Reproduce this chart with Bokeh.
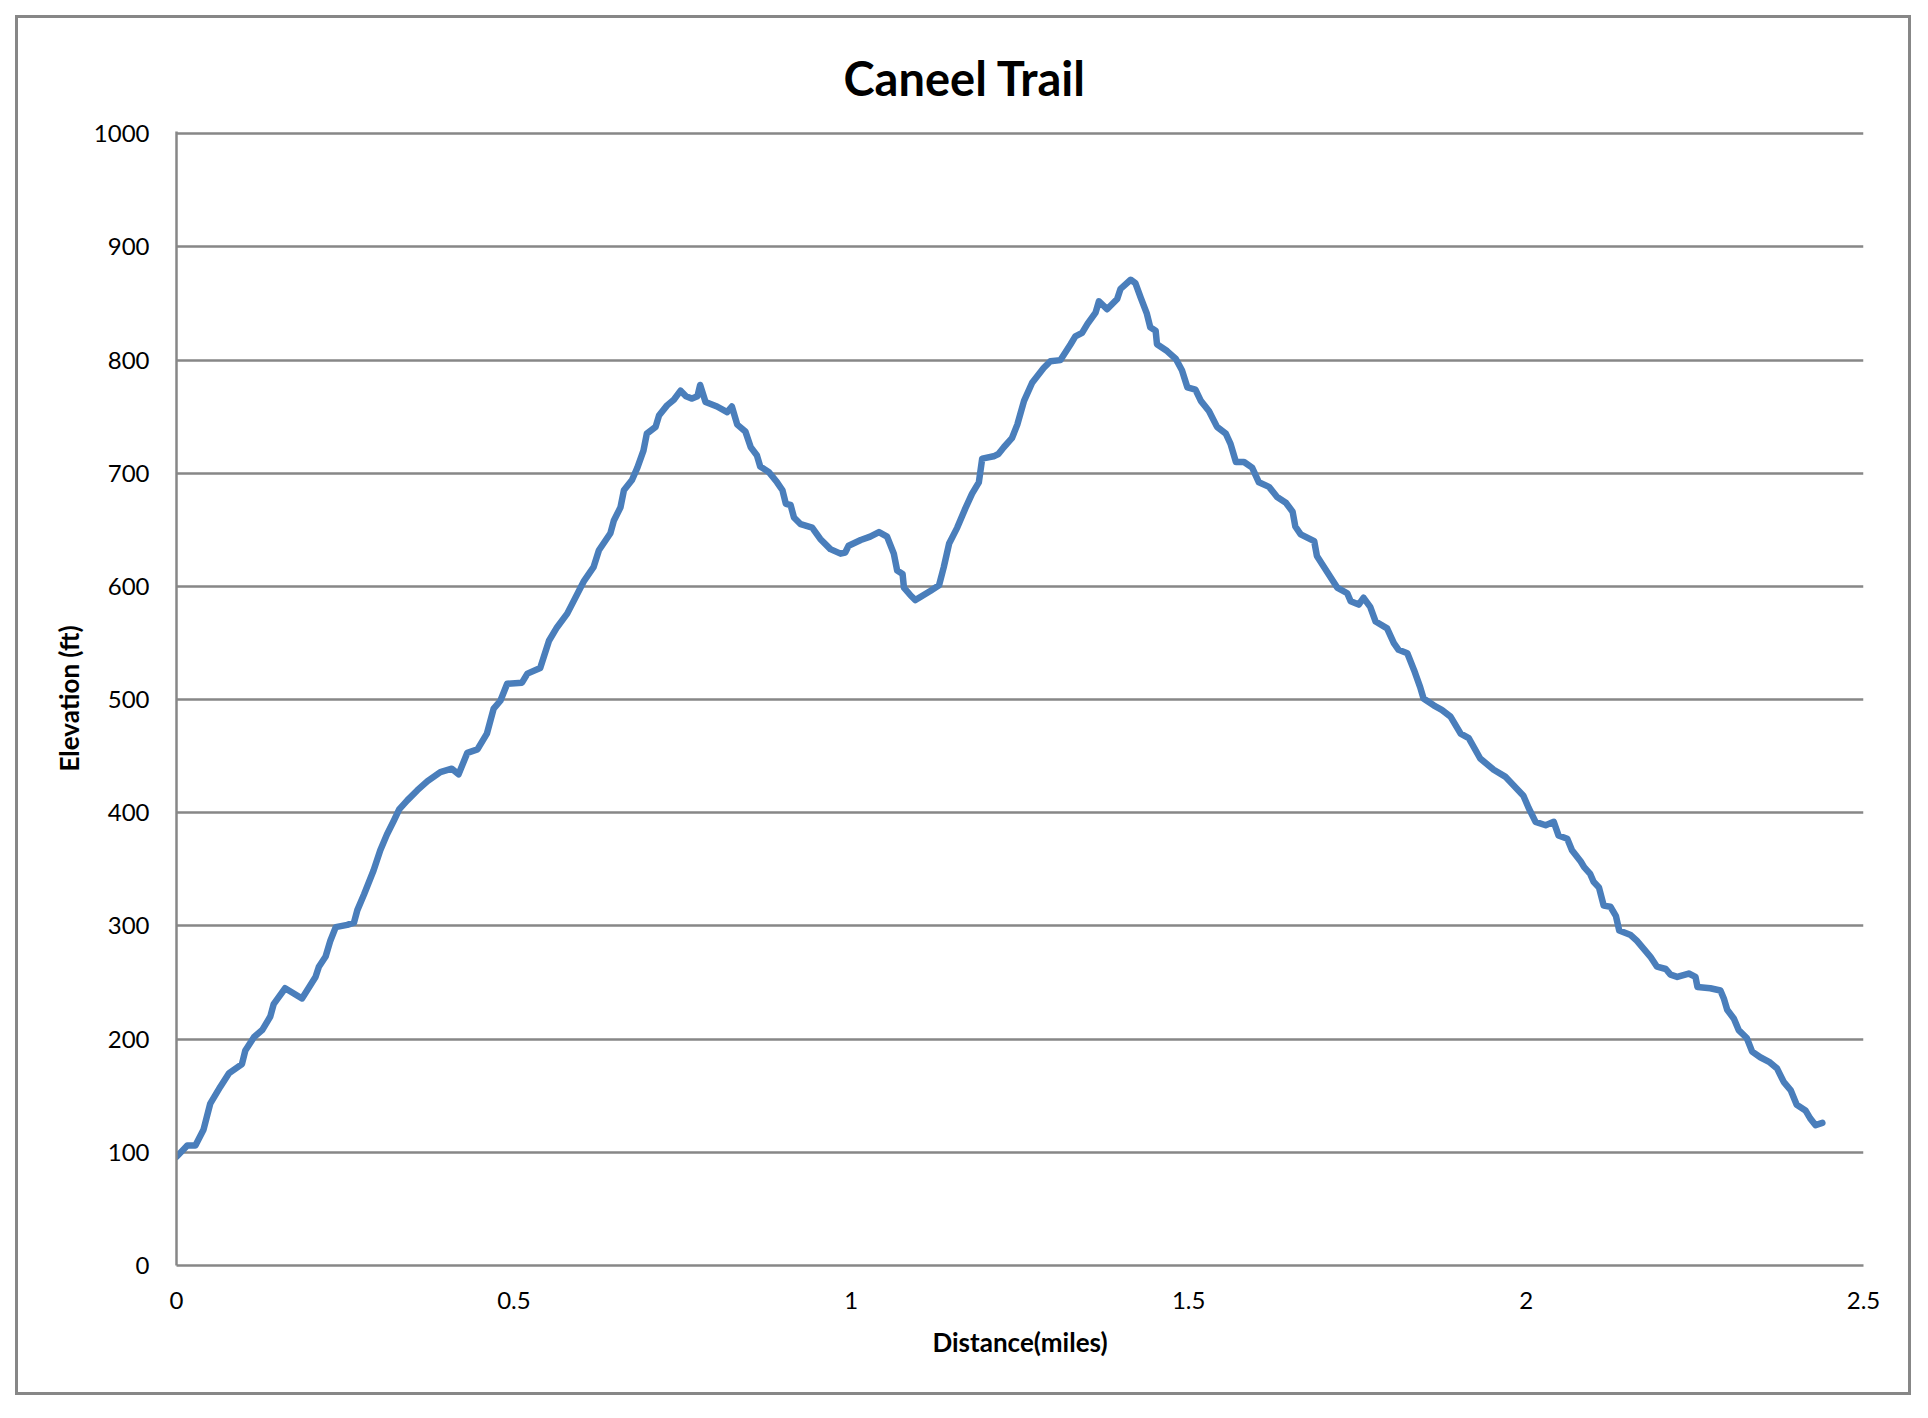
from bokeh.plotting import figure
from bokeh.models import Range1d, FixedTicker, Title
from bokeh.embed import file_html
from bokeh.resources import INLINE

# ---- data ----
distance_miles = [
    0.000, 0.016, 0.028, 0.040, 0.050, 0.065, 0.078, 0.097, 0.102, 0.115,
    0.127, 0.139, 0.144, 0.161, 0.186, 0.206, 0.211, 0.221, 0.228, 0.236,
    0.253, 0.263, 0.268, 0.278, 0.292, 0.302, 0.312, 0.322, 0.330, 0.342,
    0.357, 0.372, 0.391, 0.408, 0.418, 0.431, 0.446, 0.460, 0.470, 0.480,
    0.490, 0.512, 0.520, 0.539, 0.552, 0.564, 0.579, 0.604, 0.618, 0.626,
    0.643, 0.648, 0.658, 0.663, 0.675, 0.683, 0.692, 0.697, 0.710, 0.715,
    0.727, 0.737, 0.747, 0.755, 0.764, 0.772, 0.776, 0.784, 0.801, 0.816,
    0.823, 0.831, 0.843, 0.851, 0.860, 0.865, 0.878, 0.890, 0.898, 0.903,
    0.910, 0.915, 0.925, 0.942, 0.954, 0.969, 0.984, 0.991, 0.996, 1.014,
    1.028, 1.041, 1.053, 1.063, 1.068, 1.076, 1.078, 1.088, 1.095, 1.103,
    1.117, 1.130, 1.137, 1.145, 1.157, 1.169, 1.179, 1.189, 1.194, 1.211,
    1.218, 1.226, 1.238, 1.246, 1.256, 1.268, 1.285, 1.295, 1.310, 1.325,
    1.332, 1.342, 1.350, 1.362, 1.367, 1.379, 1.394, 1.399, 1.414, 1.421,
    1.429, 1.438, 1.443, 1.451, 1.453, 1.468, 1.481, 1.490, 1.498, 1.510,
    1.518, 1.530, 1.542, 1.555, 1.562, 1.570, 1.582, 1.594, 1.604, 1.619,
    1.631, 1.644, 1.654, 1.658, 1.666, 1.686, 1.690, 1.705, 1.720, 1.735,
    1.740, 1.752, 1.759, 1.769, 1.777, 1.794, 1.804, 1.811, 1.824, 1.834,
    1.843, 1.848, 1.863, 1.875, 1.888, 1.903, 1.915, 1.932, 1.952, 1.969,
    1.982, 1.996, 2.004, 2.014, 2.029, 2.041, 2.048, 2.061, 2.068, 2.081,
    2.086, 2.095, 2.100, 2.108, 2.115, 2.125, 2.133, 2.138, 2.155, 2.164,
    2.174, 2.184, 2.194, 2.207, 2.214, 2.224, 2.241, 2.251, 2.254, 2.273,
    2.288, 2.293, 2.298, 2.308, 2.315, 2.327, 2.335, 2.347, 2.360, 2.372,
    2.382, 2.392, 2.401, 2.414, 2.421, 2.429, 2.439,
]
elevation_ft = [
    96, 106, 106, 120, 143, 158, 170, 178, 190, 202,
    208, 220, 231, 245, 236, 255, 264, 273, 287, 299,
    301, 303, 314, 328, 349, 367, 381, 393, 403, 411,
    420, 428, 436, 439, 434, 453, 456, 470, 492, 499,
    514, 515, 523, 528, 552, 564, 576, 605, 617, 632,
    647, 658, 670, 685, 694, 705, 720, 735, 741, 751,
    760, 765, 773, 768, 766, 768, 778, 763, 759, 754,
    759, 743, 737, 723, 716, 706, 701, 692, 685, 673,
    672, 661, 655, 652, 642, 633, 629, 630, 636, 641,
    644, 648, 644, 629, 614, 611, 599, 592, 588, 591,
    596, 601, 617, 638, 652, 669, 682, 692, 713, 715,
    717, 723, 731, 743, 764, 780, 793, 799, 800, 814,
    821, 824, 832, 842, 852, 845, 854, 863, 871, 868,
    855, 841, 829, 826, 814, 808, 801, 791, 776, 774,
    764, 755, 741, 735, 726, 710, 710, 705, 692, 688,
    679, 674, 666, 653, 646, 640, 627, 613, 599, 594,
    587, 584, 590, 582, 569, 563, 550, 544, 541, 526,
    511, 501, 495, 491, 485, 470, 466, 448, 438, 432,
    424, 415, 404, 392, 389, 392, 380, 377, 367, 357,
    352, 346, 339, 334, 318, 317, 309, 296, 292, 287,
    280, 273, 264, 262, 257, 255, 258, 255, 246, 245,
    243, 236, 226, 218, 208, 201, 189, 184, 180, 174,
    162, 155, 142, 137, 130, 124, 126,
]

x_ticks = [0, 0.5, 1, 1.5, 2, 2.5]
x_tick_labels = ["0", "0.5", "1", "1.5", "2", "2.5"]
y_ticks = [0, 100, 200, 300, 400, 500, 600, 700, 800, 900, 1000]
y_tick_labels = [str(v) for v in y_ticks]

title_text = "Caneel Trail"
x_label = "Distance(miles)"
y_label = "Elevation (ft)"

FONT = "Lato"
GRAY = "#878787"
OFF = 18                      # figure placed 18px in; the chart border is drawn just outside it
W, H = 1890, 1374
X_END, Y_END = 2.5, 1002
F_LEFT, F_RIGHT, F_TOP, F_BOTTOM = 176 - OFF, 1863 - OFF, 131 - OFF, 1265 - OFF

p = figure(
    width=W, height=H,
    x_range=Range1d(0, X_END), y_range=Range1d(0, Y_END),
    output_backend="svg", toolbar_location=None,
    min_border_left=F_LEFT, min_border_right=W - F_RIGHT,
    min_border_top=F_TOP, min_border_bottom=H - F_BOTTOM,
)
p.background_fill_color = "white"
p.border_fill_color = "white"
p.outline_line_color = None
# outer chart-area border
p.styles = {"margin-left": f"{OFF}px", "margin-top": f"{OFF}px",
            "outline": f"3px solid {GRAY}", "outline-offset": "0px"}

# title
p.title.visible = False
t = Title(text=title_text, align="left", text_font=FONT, text_font_style="bold",
          text_font_size="47px", text_color="black", offset=667, standoff=52)
p.add_layout(t, "above")

# axes
p.xaxis.ticker = FixedTicker(ticks=x_ticks)
p.xaxis.major_label_overrides = {k: v for k, v in zip(x_ticks, x_tick_labels)}
p.yaxis.ticker = FixedTicker(ticks=y_ticks)
p.yaxis.major_label_overrides = {k: v for k, v in zip(y_ticks, y_tick_labels)}

for ax in (p.xaxis[0], p.yaxis[0]):
    ax.axis_line_color = GRAY
    ax.axis_line_width = 2.5
    ax.major_tick_line_color = None
    ax.minor_tick_line_color = None
    ax.major_tick_out = 0
    ax.major_tick_in = 0
    ax.major_label_text_font = FONT
    ax.major_label_text_font_size = "24px"
    ax.major_label_text_color = "black"
    ax.axis_label_text_font = FONT
    ax.axis_label_text_font_style = "bold"
    ax.axis_label_text_font_size = "26px"
    ax.axis_label_text_color = "black"

p.xaxis.axis_label = x_label
p.yaxis.axis_label = y_label
p.xaxis.major_label_standoff = 26
p.yaxis.major_label_standoff = 27
p.xaxis.axis_label_standoff = 14
p.yaxis.axis_label_standoff = 6

p.xgrid.grid_line_color = None
p.ygrid.grid_line_color = GRAY
p.ygrid.grid_line_width = 2.5

# the series
p.line(distance_miles, elevation_ft, line_color="#4A7EBB", line_width=6.5,
       line_join="round", line_cap="round")

open("out.html", "w").write(file_html(p, INLINE))
